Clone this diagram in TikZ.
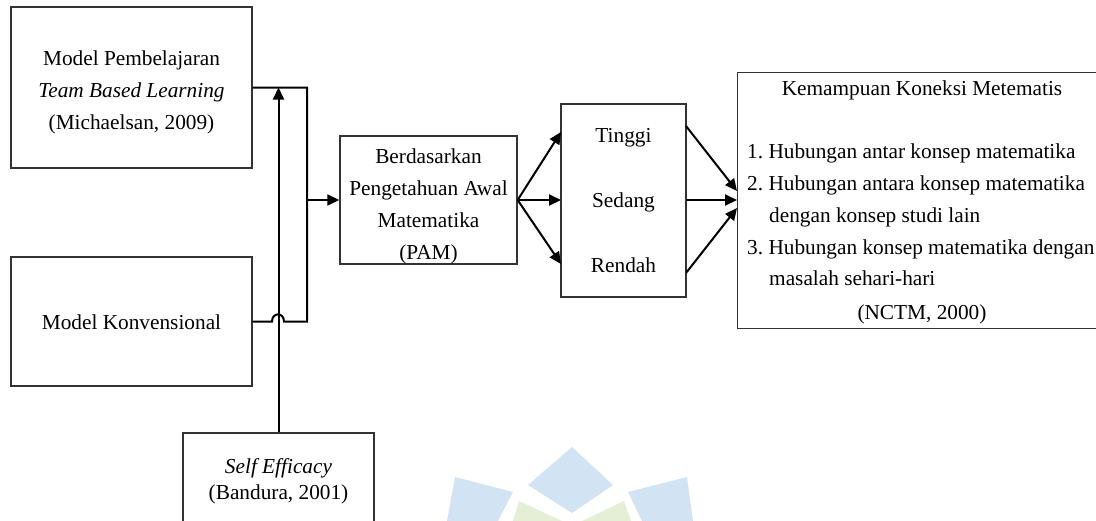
\documentclass[tikz,border=0pt]{standalone}
\usepackage{fontspec}
\setmainfont{Liberation Serif}
\usetikzlibrary{arrows.meta,calc}
\definecolor{wmb}{RGB}{210,228,244}
\definecolor{wmg}{RGB}{228,239,214}
\tikzset{
  boxnode/.style={draw=black!80, line width=1.3pt, inner sep=0pt},
  txt/.style={inner sep=0pt, align=center, font=\fontsize{21.3}{32}\selectfont},
  conn/.style={line width=2pt, black},
  arr/.style={conn, -{Triangle[length=12pt,width=11pt]}},
  wmblue/.style={fill=wmb, draw=none},
  wmgreen/.style={fill=wmg, draw=none}
}
\begin{document}
\frenchspacing
\begin{tikzpicture}[x=1pt,y=-1pt]
\useasboundingbox (0,0) rectangle (1096,520);
\clip (0,0) rectangle (1096,520);
\fill[white] (0,0) rectangle (1096,520);
% watermark
\fill[wmblue] (572,447) -- (613,485) -- (572,513) -- (528,485) -- cycle;
\fill[wmblue] (455,477) -- (513,492) -- (498,521) -- (447,521) -- cycle;
\fill[wmblue] (628,492) -- (687,477) -- (693,521) -- (642,521) -- cycle;
\fill[wmgreen] (519,501) -- (562,521) -- (513,521) -- cycle;
\fill[wmgreen] (624,501) -- (631,521) -- (582,521) -- cycle;

% boxes
\node[boxnode, minimum width=241, minimum height=161] (boxA) at (131.5,87.5) {};
\node[txt] (tA) at (131.5,92.5)
  {Model Pembelajaran\\\textit{Team Based Learning}\\(Michaelsan, 2009)};
\node[boxnode, minimum width=241, minimum height=129] (boxB) at (131.5,321.5) {};
\node[txt] (tB) at (131.5,322) {Model Konvensional};
\node[boxnode, minimum width=191, minimum height=96] (se) at (278.5,481) {};
\node[txt, font=\fontsize{21.3}{26}\selectfont] (tse) at (278.5,481)
  {\textit{Self Efficacy}\\(Bandura, 2001)};
\node[boxnode, minimum width=177, minimum height=128] (pam) at (428.5,200) {};
\node[txt] (tpam) at (428.5,206)
  {Berdasarkan\\Pengetahuan Awal\\Matematika\\(PAM)};
\node[boxnode, minimum width=125, minimum height=193] (levels) at (623.5,200.5) {};
\node[txt] (tinggi) at (623.5,138) {Tinggi};
\node[txt] (sedang) at (623.5,202) {Sedang};
\node[txt] (rendah) at (623.5,265) {Rendah};
\node[boxnode, minimum width=373, minimum height=256, anchor=north west] (res) at (737,72) {};
\node[txt] (restitle) at (922,90) {Kemampuan Koneksi Metematis};
\node[txt, anchor=west, align=left, font=\fontsize{21.3}{31.8}\selectfont] (reslist) at (747,215)
  {1. Hubungan antar konsep matematika\\
   2. Hubungan antara konsep matematika\\
   \hspace*{22pt}dengan konsep studi lain\\
   3. Hubungan konsep matematika dengan\\
   \hspace*{22pt}masalah sehari-hari};
\node[txt] (nctm) at (922,314) {(NCTM, 2000)};

% junction coordinates
\coordinate (jA) at (307,87.5);
\coordinate (jB) at (307,321.5);
\coordinate (jM) at (307,200);
\coordinate (h1) at (272,321.5);
\coordinate (h2) at (284,321.5);
\coordinate (seTop) at (se.north |- boxA.east);

% left connectors
\draw[arr] (se.north) -- (seTop);
\draw[conn] (boxA.east) -- (jA) -- (jB) -- (h2) .. controls (284,312) and (272,312) .. (h1) -- (boxB.east);
\draw[arr] (jM) -- (pam.west);

% PAM to levels
\coordinate (lt) at (561,132);
\coordinate (lm) at (561,200);
\coordinate (lb) at (561,264);
\draw[arr] (pam.east) -- (lt);
\draw[arr] (pam.east) -- (lm);
\draw[arr] (pam.east) -- (lb);

% levels to result
\coordinate (ot) at (686,126);
\coordinate (om) at (686,200);
\coordinate (ob) at (686,273);
\coordinate (rt) at (737,191);
\coordinate (rm) at (737,200);
\coordinate (rb) at (737,208);
\draw[arr] (ot) -- (rt);
\draw[arr] (om) -- (rm);
\draw[arr] (ob) -- (rb);
\end{tikzpicture}
\end{document}
